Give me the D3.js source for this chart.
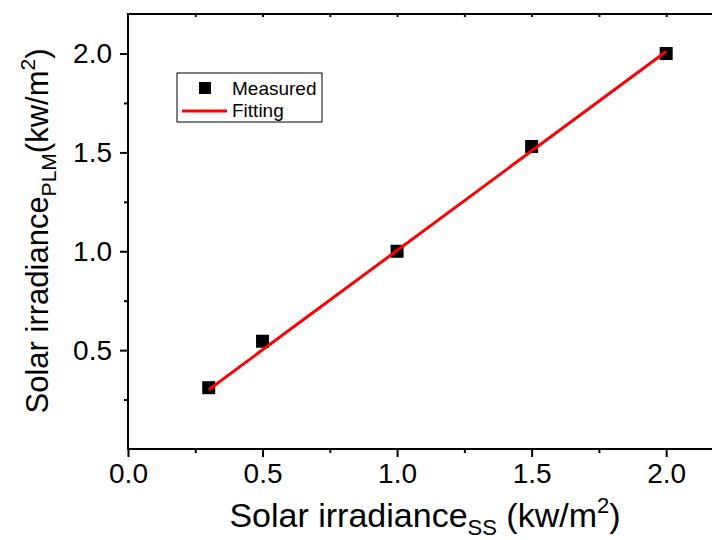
<!DOCTYPE html>
<html>
<head>
<meta charset="utf-8">
<script src="https://cdn.jsdelivr.net/npm/d3@7"></script>
<style>
  body { margin: 0; background: #fff; }
  svg { display: block; font-family: "Liberation Sans", Arial, sans-serif; }
</style>
</head>
<body>
<div id="chart"></div>
<script>
// measured points
const xMeasured = [0.3, 0.5, 1.0, 1.5, 2.0];
const yMeasured = [0.31, 0.545, 1.0, 1.53, 2.0];
// fitting line end points
const xFit = [0.3, 2.0];
const yFit = [0.30, 2.01];
// tick labels
const xTicks = [0.0, 0.5, 1.0, 1.5, 2.0];
const yTicks = [0.5, 1.0, 1.5, 2.0];
const legendLabels = ["Measured", "Fitting"];

const width = 712, height = 540;
const margin = { top: 14, right: -8, bottom: 91, left: 128 };

const svg = d3.select("#chart").append("svg")
  .attr("width", width)
  .attr("height", height);

const x = d3.scaleLinear().domain([0, 2.2]).range([margin.left, width - margin.right]);
const y = d3.scaleLinear().domain([0, 2.2]).range([height - margin.bottom, margin.top]);

const minor = d3.range(0, 2.21, 0.25);

// frame
svg.append("rect")
  .attr("x", x(0)).attr("y", y(2.2))
  .attr("width", x(2.2) - x(0)).attr("height", y(0) - y(2.2))
  .attr("fill", "none").attr("stroke", "#000").attr("stroke-width", 2);

// bottom axis
const xAxis = svg.append("g").attr("transform", `translate(0,${y(0)})`)
  .call(d3.axisBottom(x).tickValues(xTicks).tickFormat(d3.format(".1f")).tickSize(8).tickPadding(6));
xAxis.select(".domain").remove();
xAxis.selectAll(".tick line").attr("stroke-width", 2);
xAxis.selectAll(".tick text").attr("font-size", 28).attr("font-family", "Liberation Sans, Arial, sans-serif");
svg.append("g").attr("transform", `translate(0,${y(0)})`)
  .call(d3.axisBottom(x).tickValues(minor.filter(v => v % 0.5 !== 0)).tickSize(4).tickFormat(""))
  .call(g => g.select(".domain").remove())
  .selectAll("line").attr("stroke-width", 2);

// top axis minor marks
svg.append("g").attr("transform", `translate(0,${y(2.2)})`)
  .call(d3.axisBottom(x).tickValues(minor.slice(1)).tickSize(3).tickFormat(""))
  .call(g => g.select(".domain").remove())
  .selectAll("line").attr("stroke-width", 2);

// left axis
const yAxis = svg.append("g").attr("transform", `translate(${x(0)},0)`)
  .call(d3.axisLeft(y).tickValues(yTicks).tickFormat(d3.format(".1f")).tickSize(8).tickPadding(8));
yAxis.select(".domain").remove();
yAxis.selectAll(".tick line").attr("stroke-width", 2);
yAxis.selectAll(".tick text").attr("font-size", 28).attr("font-family", "Liberation Sans, Arial, sans-serif");
svg.append("g").attr("transform", `translate(${x(0)},0)`)
  .call(d3.axisLeft(y).tickValues(minor.filter(v => v % 0.5 !== 0)).tickSize(4).tickFormat(""))
  .call(g => g.select(".domain").remove())
  .selectAll("line").attr("stroke-width", 2);

// measured squares
const line = d3.line().x(d => x(d[0])).y(d => y(d[1]));
const sq = 13;
svg.append("g").selectAll("rect")
  .data(d3.zip(xMeasured, yMeasured))
  .join("rect")
  .attr("x", d => x(d[0]) - sq / 2)
  .attr("y", d => y(d[1]) - sq / 2)
  .attr("width", sq).attr("height", sq)
  .attr("fill", "#000");

// fitting line on top of the squares
svg.append("path")
  .datum(d3.zip(xFit, yFit))
  .attr("d", line)
  .attr("fill", "none").attr("stroke", "#ff0000").attr("stroke-width", 3);

// legend
const lg = svg.append("g").attr("transform", "translate(177,73)");
lg.append("rect").attr("width", 145).attr("height", 49)
  .attr("fill", "#fff").attr("stroke", "#000").attr("stroke-width", 1);
lg.append("rect").attr("x", 22).attr("y", 9).attr("width", 12).attr("height", 12).attr("fill", "#000");
lg.append("line").attr("x1", 5).attr("x2", 50).attr("y1", 38).attr("y2", 38)
  .attr("stroke", "#ff0000").attr("stroke-width", 3);
lg.selectAll("text.lab").data(legendLabels).join("text")
  .attr("class", "lab")
  .attr("x", 55).attr("y", (d, i) => 22 + i * 22)
  .attr("font-size", 19)
  .text(d => d);

// axis titles
const xt = svg.append("text")
  .attr("x", 425).attr("y", 527)
  .attr("text-anchor", "middle")
  .attr("font-size", 34);
xt.append("tspan").text("Solar irradiance");
xt.append("tspan").attr("font-size", 22).attr("dy", 8).text("SS");
xt.append("tspan").attr("dy", -8).text(" (kw/m");
xt.append("tspan").attr("font-size", 22).attr("dy", -14).text("2");
xt.append("tspan").attr("dy", 14).text(")");

const yt = svg.append("text")
  .attr("transform", "translate(48,231) rotate(-90)")
  .attr("text-anchor", "middle")
  .attr("font-size", 31);
yt.append("tspan").text("Solar irradiance");
yt.append("tspan").attr("font-size", 21).attr("dy", 8).text("PLM");
yt.append("tspan").attr("dy", -8).text("(kw/m");
yt.append("tspan").attr("font-size", 21).attr("dy", -13).text("2");
yt.append("tspan").attr("dy", 13).text(")");
</script>
</body>
</html>
